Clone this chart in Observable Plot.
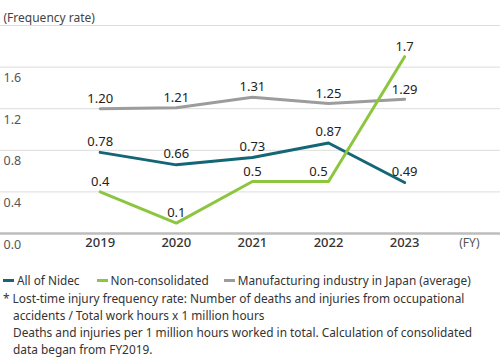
<!DOCTYPE html>
<html>
<head>
<meta charset="utf-8">
<script src="https://cdn.jsdelivr.net/npm/d3@7"></script>
<script src="https://cdn.jsdelivr.net/npm/@observablehq/plot@0.6"></script>
<style>
  html, body { margin: 0; padding: 0; background: #fff; }
  body { width: 500px; font-family: "Noto Sans", "Open Sans", sans-serif; color: #222; }
  #legend { display: flex; align-items: center; font-size: 11.8px; color: #333; margin: 9px 0 0 3px; height: 18px; white-space: nowrap; }
  #legend .item { display: flex; align-items: center; flex: none; }
  #legend .sw { width: 11px; height: 3px; margin-right: 3px; }
  #note { font-size: 11.85px; line-height: 17px; color: #333; margin: 1px 0 0 3px; white-space: nowrap; }
  #note .ind { padding-left: 10px; }
</style>
</head>
<body>
<div id="chart"></div>
<div id="legend"></div>
<div id="note"></div>
<script>
const years = [2019, 2020, 2021, 2022, 2023];
const allNidec = [0.78, 0.66, 0.73, 0.87, 0.49];
const nonConsolidated = [0.4, 0.1, 0.5, 0.5, 1.7];
const manufacturingJapan = [1.20, 1.21, 1.31, 1.25, 1.29];
const allNidecLabels = ["0.78", "0.66", "0.73", "0.87", "0.49"];
const nonConsolidatedLabels = ["0.4", "0.1", "0.5", "0.5", "1.7"];
const manufacturingLabels = ["1.20", "1.21", "1.31", "1.25", "1.29"];
const yTicks = [0.0, 0.4, 0.8, 1.2, 1.6];
const yTickLabels = ["0.0", "0.4", "0.8", "1.2", "1.6"];
const gridValues = [0.4, 0.8, 1.2, 1.6, 2.0];
const seriesNames = ["All of Nidec", "Non-consolidated", "Manufacturing industry in Japan (average)"];
const seriesColors = ["#136675", "#8cc63e", "#9c9c9c"];

const mk = (vals, labels, name) => years.map((y, i) => ({year: y, value: vals[i], label: labels[i], series: name}));
const dNidec = mk(allNidec, allNidecLabels, seriesNames[0]);
const dNon = mk(nonConsolidated, nonConsolidatedLabels, seriesNames[1]);
const dMfg = mk(manufacturingJapan, manufacturingLabels, seriesNames[2]);

const font = '"Noto Sans", "Open Sans", sans-serif';

const chart = Plot.plot({
  width: 500,
  height: 262,
  marginTop: 25,
  marginBottom: 29,
  marginLeft: 0,
  marginRight: 0,
  style: {fontFamily: font, background: "#fff"},
  x: {domain: [2017.69, 2024.26], axis: null},
  y: {domain: [0, 2], axis: null},
  marks: [
    Plot.ruleY(gridValues, {stroke: "#dcdcdc", strokeWidth: 1}),
    Plot.ruleY([0], {stroke: "#bdbdbd", strokeWidth: 2.5}),
    Plot.text(yTicks, {y: d => d, text: (d, i) => yTickLabels[i], frameAnchor: "left", textAnchor: "start", dx: 3, dy: 11, fontSize: 12.5, fill: "#555"}),
    Plot.text(years, {x: d => d, frameAnchor: "bottom", text: d => String(d), dy: 13, fontSize: 13, fill: "#333", fontWeight: 500}),
    Plot.text(["(FY)"], {frameAnchor: "bottom-right", textAnchor: "end", dx: -21, dy: 13, fontSize: 12, fill: "#555"}),
    Plot.text(["(Frequency rate)"], {frameAnchor: "top-left", textAnchor: "start", dx: 3, dy: -12, fontSize: 12, fill: "#444"}),
    Plot.line(dMfg, {x: "year", y: "value", stroke: seriesColors[2], strokeWidth: 3}),
    Plot.line(dNidec, {x: "year", y: "value", stroke: seriesColors[0], strokeWidth: 3}),
    Plot.line(dNon, {x: "year", y: "value", stroke: seriesColors[1], strokeWidth: 3}),
    Plot.text(dMfg, {x: "year", y: "value", text: "label", dy: -10, fontSize: 13, fill: "#222"}),
    Plot.text(dNidec, {x: "year", y: "value", text: "label", dy: -11, fontSize: 13, fill: "#222"}),
    Plot.text(dNon.filter(d => d.year !== 2022), {x: "year", y: "value", text: "label", dy: -10, fontSize: 13, fill: "#222"}),
    Plot.text(dNon.filter(d => d.year === 2022), {x: "year", y: "value", text: "label", dy: -10, dx: -10, fontSize: 13, fill: "#222"})
  ]
});
document.getElementById("chart").appendChild(chart);

const legend = document.getElementById("legend");
const itemGaps = [17, 15, 0];
seriesNames.forEach((n, i) => {
  const it = document.createElement("div");
  it.className = "item";
  it.style.marginRight = itemGaps[i] + "px";
  const sw = document.createElement("span");
  sw.className = "sw";
  sw.style.background = seriesColors[i];
  const t = document.createElement("span");
  t.textContent = n;
  it.appendChild(sw); it.appendChild(t);
  legend.appendChild(it);
});

const noteLines = [
  "* Lost-time injury frequency rate: Number of deaths and injuries from occupational",
  "accidents / Total work hours x 1 million hours",
  "Deaths and injuries per 1 million hours worked in total. Calculation of consolidated",
  "data began from FY2019."
];
const note = document.getElementById("note");
noteLines.forEach((l, i) => {
  const d = document.createElement("div");
  d.textContent = l;
  if (i > 0) d.className = "ind";
  note.appendChild(d);
});
</script>
</body>
</html>
